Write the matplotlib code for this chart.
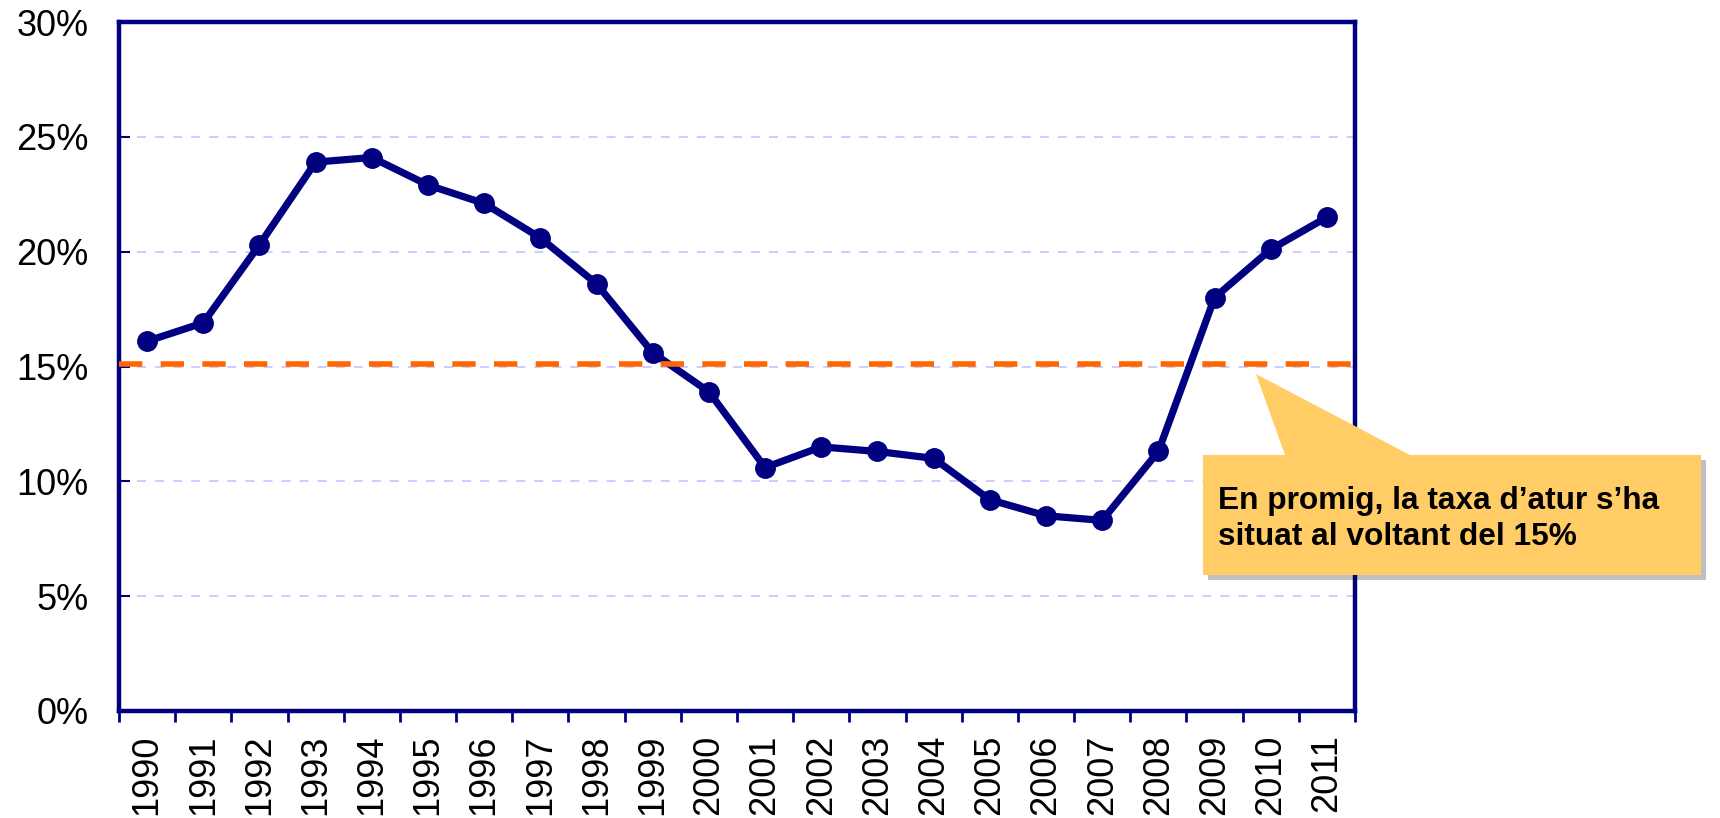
import matplotlib.pyplot as plt
import matplotlib.patches as mpatches
from matplotlib.ticker import FixedLocator, PercentFormatter

# Taxa d'atur (%) per any
ANYS = [str(a) for a in range(1990, 2012)]
TAXA_ATUR = [16.1, 16.9, 20.3, 23.9, 24.1, 22.9, 22.1, 20.6, 18.6, 15.6, 13.9,
             10.6, 11.5, 11.3, 11.0, 9.2, 8.5, 8.3, 11.3, 18.0, 20.1, 21.5]
MITJANA = 15.1
Y_TICKS = [0, 5, 10, 15, 20, 25, 30]
TEXT_NOTA = "En promig, la taxa d\u2019atur s\u2019ha\nsituat al voltant del 15%"

BLAU = "#000080"
TARONJA = "#FF6600"
GROC = "#FFCC66"

plt.rcParams["font.family"] = ["Liberation Sans", "DejaVu Sans"]

W, H = 1720, 818
fig = plt.figure(figsize=(W / 100, H / 100), dpi=100)
ax = fig.add_axes([119 / W, 1 - 711 / H, (1355 - 119) / W, (711 - 22) / H])

x = list(range(len(ANYS)))
ax.plot(x, TAXA_ATUR, color=BLAU, lw=5.2, marker="o", ms=14, zorder=3,
        solid_joinstyle="round")
ax.axhline(MITJANA, color=TARONJA, lw=4, dashes=(4.2, 3.3), zorder=4)

ax.set_xlim(-0.5, len(ANYS) - 0.5)
ax.set_ylim(0, 30)
ax.set_yticks(Y_TICKS)
ax.yaxis.set_major_formatter(PercentFormatter(decimals=0))
ax.set_xticks(x)
ax.set_xticklabels(ANYS, rotation=90)
ax.xaxis.set_minor_locator(FixedLocator([i - 0.5 for i in range(len(ANYS) + 1)]))

ax.tick_params(axis="x", which="major", length=0, pad=17, labelsize=26)
ax.tick_params(axis="x", which="minor", length=8, width=2, color=BLAU, direction="out")
ax.tick_params(axis="y", length=8, width=1.5, color=BLAU, direction="in", pad=22,
               labelsize=26)

for s in ax.spines.values():
    s.set_color(BLAU)
    s.set_linewidth(3.2)

ax.grid(axis="y", color="#C8C8FF", lw=1.3, dashes=(5, 5))
ax.set_axisbelow(True)

# Globus de text amb punta
def fc(px, py):
    return (px / W, 1 - py / H)

forma = [(1203, 455), (1285, 455), (1256, 374), (1410, 455),
         (1701, 455), (1701, 575), (1203, 575)]
ombra = mpatches.Polygon([fc(px + 5, py + 5) for px, py in forma], closed=True,
                         transform=fig.transFigure, facecolor="#000000", alpha=0.25,
                         edgecolor="none", zorder=10)
globus = mpatches.Polygon([fc(px, py) for px, py in forma], closed=True,
                          transform=fig.transFigure, facecolor=GROC,
                          edgecolor="none", zorder=11)
fig.patches.extend([ombra, globus])
fig.text(1218 / W, 1 - 519 / H, TEXT_NOTA, fontsize=22.8, fontweight="bold",
         va="center", ha="left", linespacing=1.22, zorder=12)

fig.savefig("out.png", dpi=100)
